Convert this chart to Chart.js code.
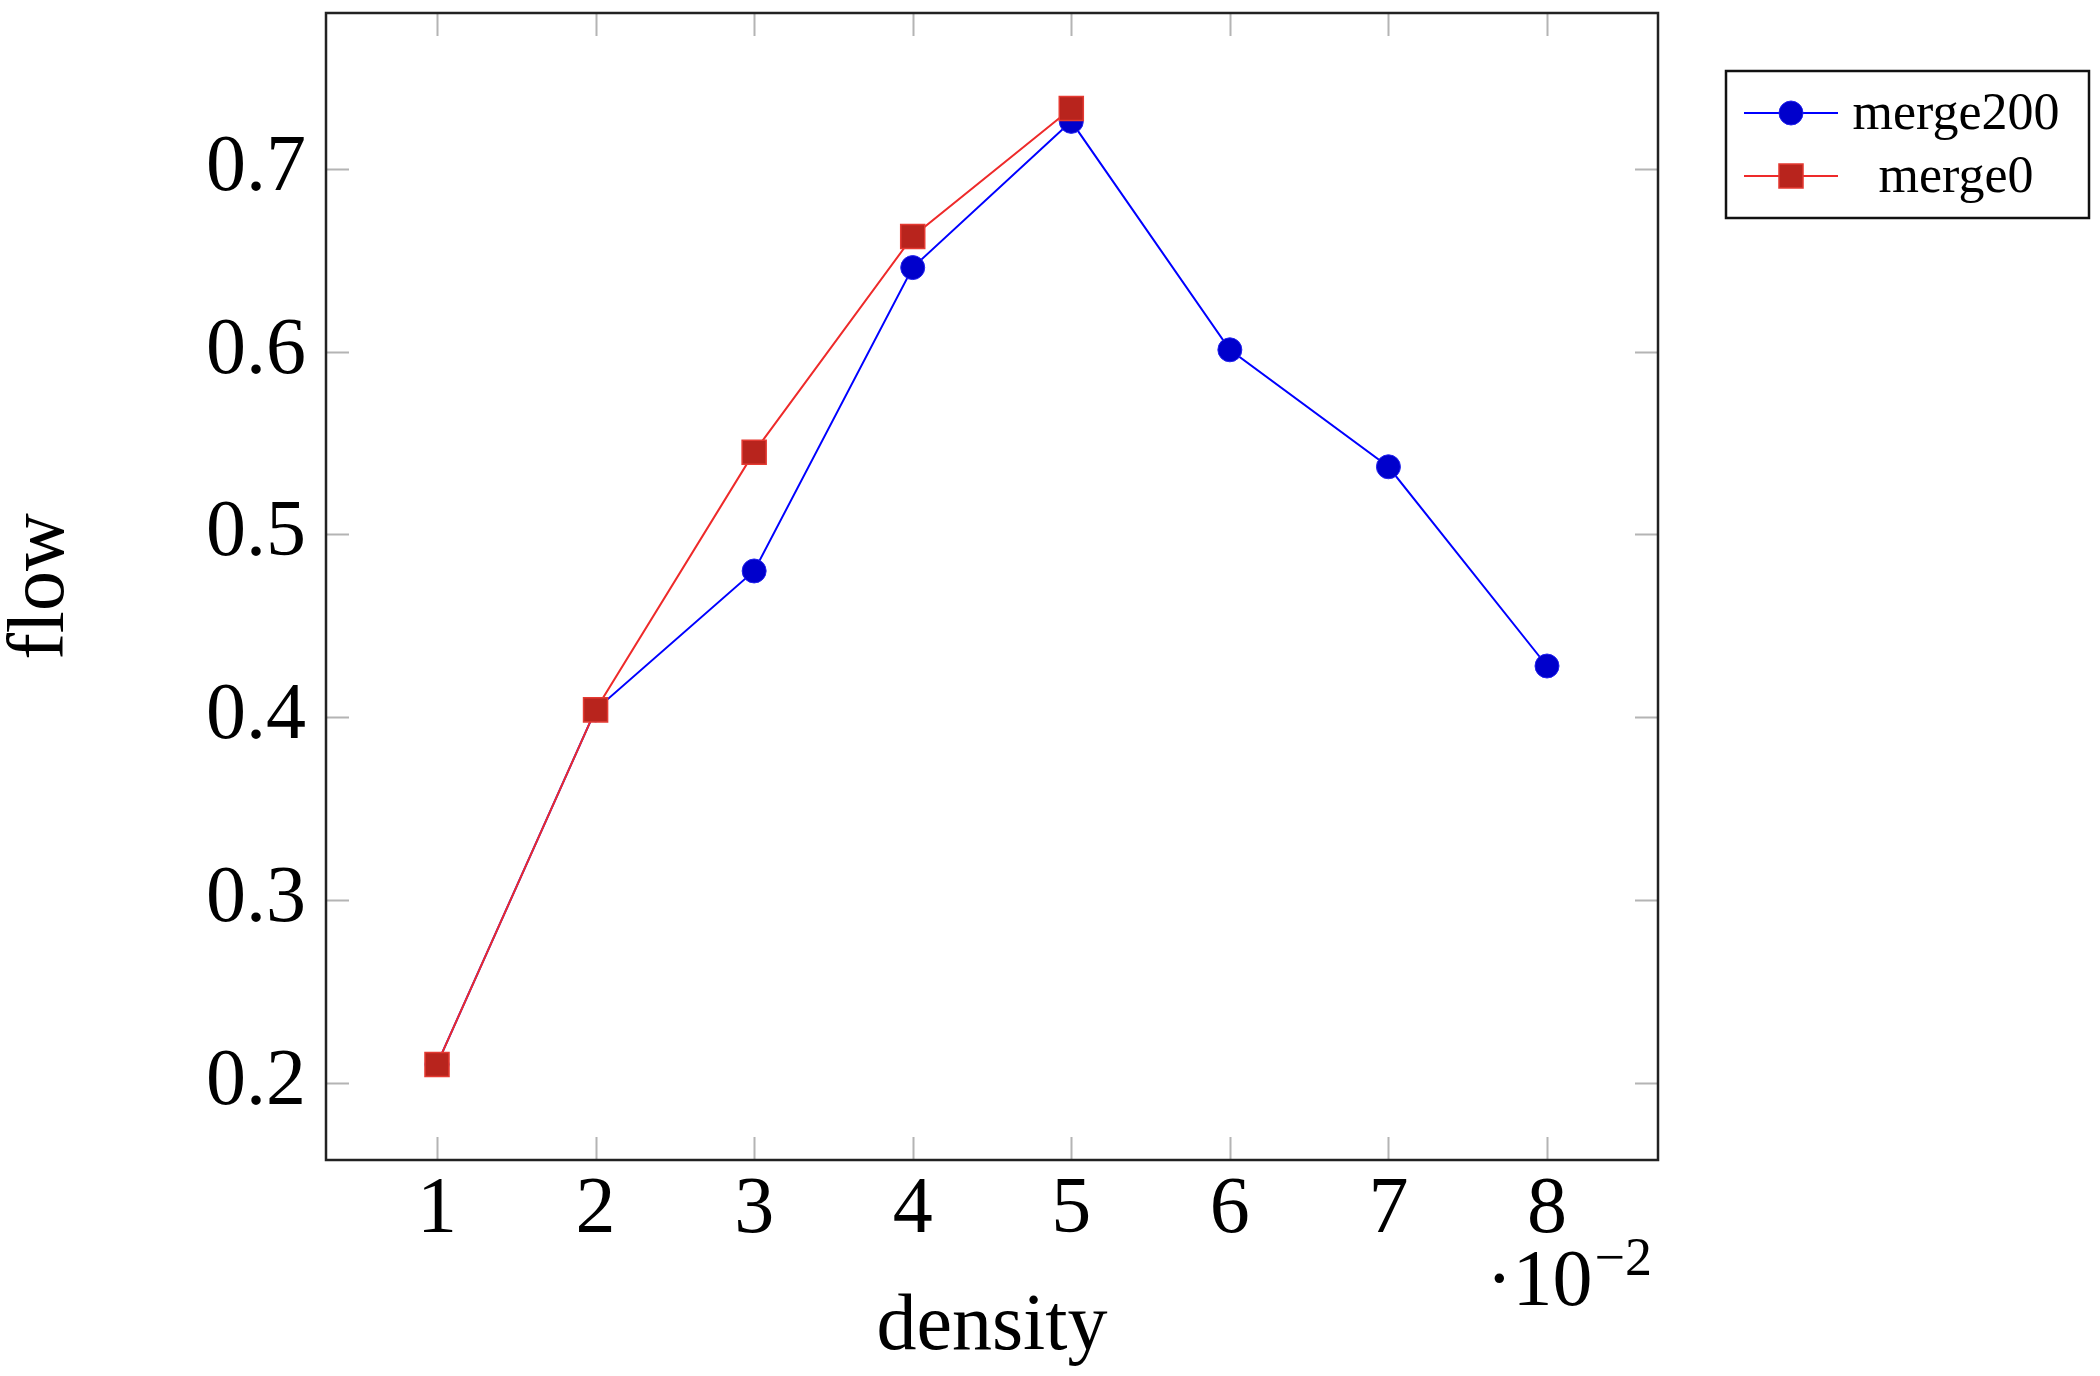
<!DOCTYPE html>
<html lang="en">
<head>
<meta charset="UTF-8">
<title>flow vs density</title>
<script src="https://cdn.jsdelivr.net/npm/chart.js@4.4.0/dist/chart.umd.min.js"></script>
<style>
html,body{margin:0;padding:0;background:#fff}
#box{width:2100px;height:1376px}
</style>
</head>
<body>
<div id="box"><canvas id="c" width="2100" height="1376"></canvas></div>
<script>
// data (density in units of 1e-2)
const density   = [1, 2, 3, 4, 5, 6, 7, 8];
const merge200  = [0.21, 0.404, 0.480, 0.646, 0.726, 0.601, 0.537, 0.428];
const merge0    = [0.21, 0.404, 0.545, 0.663, 0.733];
const xTicks    = [1, 2, 3, 4, 5, 6, 7, 8];
const yTicks    = [0.2, 0.3, 0.4, 0.5, 0.6, 0.7];
const seriesNames = ['merge200', 'merge0'];

const FONT = '"Liberation Serif","Times New Roman",serif';

const pts = (ys) => ys.map((y, i) => ({x: density[i], y: y}));

function noPad(s){
  s.paddingTop = 0; s.paddingBottom = 0; s.paddingLeft = 0; s.paddingRight = 0;
}

/* pgfplots style frame, inner ticks, legend and the 10^-2 factor */
const decor = {
  id: 'decor',
  beforeDatasetsDraw(chart){
    const {ctx, chartArea: a, scales: {x, y}} = chart;
    ctx.save();
    ctx.strokeStyle = '#b4b4b4';
    ctx.lineWidth = 2;
    ctx.beginPath();
    xTicks.forEach(v => {
      const px = Math.round(x.getPixelForValue(v)) + 0.5;
      ctx.moveTo(px, a.bottom); ctx.lineTo(px, a.bottom - 23);
      ctx.moveTo(px, a.top);    ctx.lineTo(px, a.top + 23);
    });
    yTicks.forEach(v => {
      const py = Math.round(y.getPixelForValue(v)) + 0.5;
      ctx.moveTo(a.left, py);  ctx.lineTo(a.left + 23, py);
      ctx.moveTo(a.right, py); ctx.lineTo(a.right - 23, py);
    });
    ctx.stroke();
    ctx.restore();
  },
  afterDraw(chart){
    const {ctx, chartArea: a} = chart;
    ctx.save();
    // frame
    ctx.strokeStyle = '#222';
    ctx.lineWidth = 2.5;
    ctx.strokeRect(a.left, a.top, a.right - a.left, a.bottom - a.top);

    // ·10^-2 under the last x tick
    ctx.fillStyle = '#000';
    ctx.textBaseline = 'alphabetic';
    ctx.textAlign = 'right';
    ctx.font = '54px ' + FONT;
    const sup = '\u22122';
    ctx.fillText(sup, a.right - 6, 1275);
    const sw = ctx.measureText(sup).width;
    ctx.font = '80px ' + FONT;
    ctx.fillText('\u00B710', a.right - 6 - sw - 2, 1305);

    // legend
    const L = {x: 1726, y: 71, w: 363, h: 147};
    ctx.fillStyle = '#fff';
    ctx.fillRect(L.x, L.y, L.w, L.h);
    ctx.strokeStyle = '#111';
    ctx.lineWidth = 2.5;
    ctx.strokeRect(L.x, L.y, L.w, L.h);
    const rows = [113, 176];
    chart.data.datasets.forEach((ds, i) => {
      const yy = rows[i];
      ctx.strokeStyle = ds.borderColor;
      ctx.lineWidth = ds.borderWidth;
      ctx.beginPath();
      ctx.moveTo(1744, yy); ctx.lineTo(1838, yy);
      ctx.stroke();
      ctx.fillStyle = ds.pointBackgroundColor;
      ctx.strokeStyle = ds.pointBorderColor;
      ctx.lineWidth = ds.pointBorderWidth;
      ctx.beginPath();
      if (ds.pointStyle === 'rect') {
        const s = Math.SQRT1_2 * ds.pointRadius;
        ctx.rect(1791 - s, yy - s, 2 * s, 2 * s);
      } else {
        ctx.arc(1791, yy, ds.pointRadius, 0, Math.PI * 2);
      }
      ctx.fill(); ctx.stroke();
      ctx.fillStyle = '#000';
      ctx.font = '52px ' + FONT;
      ctx.textAlign = 'center';
      ctx.textBaseline = 'middle';
      ctx.fillText(ds.label, 1956, yy + 2);
    });
    ctx.restore();
  }
};

new Chart(document.getElementById('c'), {
  type: 'line',
  data: {
    datasets: [
      {
        label: seriesNames[0], data: pts(merge200), order: 1,
        borderColor: '#0000ff', borderWidth: 2,
        pointStyle: 'circle', pointRadius: 12, pointHoverRadius: 12,
        pointBackgroundColor: '#0000cc', pointBorderColor: '#2222ee', pointBorderWidth: 1,
        tension: 0, fill: false
      },
      {
        label: seriesNames[1], data: pts(merge0), order: 0,
        borderColor: '#ee2a2a', borderWidth: 2,
        pointStyle: 'rect', pointRadius: 17, pointHoverRadius: 17,
        pointBackgroundColor: '#b8241d', pointBorderColor: '#e43a32', pointBorderWidth: 1.5,
        tension: 0, fill: false
      }
    ]
  },
  options: {
    responsive: false,
    animation: false,
    devicePixelRatio: 1,
    layout: {autoPadding: false, padding: {top: 13, right: 442, bottom: 0, left: 0}},
    plugins: {legend: {display: false}, tooltip: {enabled: false}},
    scales: {
      x: {
        type: 'linear', min: 0.3, max: 8.7,
        afterFit(s){ s.height = 216; noPad(s); },
        afterBuildTicks(s){ s.ticks = xTicks.map(v => ({value: v})); },
        grid: {display: false, drawTicks: false},
        border: {display: false},
        ticks: {color: '#000', padding: 7, maxRotation: 0, autoSkip: false,
                font: {family: FONT, size: 80, lineHeight: 1.1}},
        title: {display: true, text: 'density', color: '#000', padding: {top: 0, bottom: 0},
                font: {family: FONT, size: 80, lineHeight: 1.2}}
      },
      y: {
        type: 'linear', min: 0.1577, max: 0.7853,
        afterFit(s){ s.width = 326; noPad(s); },
        afterBuildTicks(s){ s.ticks = yTicks.map(v => ({value: v})); },
        grid: {display: false, drawTicks: false},
        border: {display: false},
        ticks: {color: '#000', padding: 20, autoSkip: false,
                font: {family: FONT, size: 80, lineHeight: 1.1},
                callback: v => v.toFixed(1)},
        title: {display: true, text: 'flow', color: '#000', padding: {top: 2, bottom: 0},
                font: {family: FONT, size: 80, lineHeight: 1}}
      }
    }
  },
  plugins: [decor]
});
</script>
</body>
</html>
